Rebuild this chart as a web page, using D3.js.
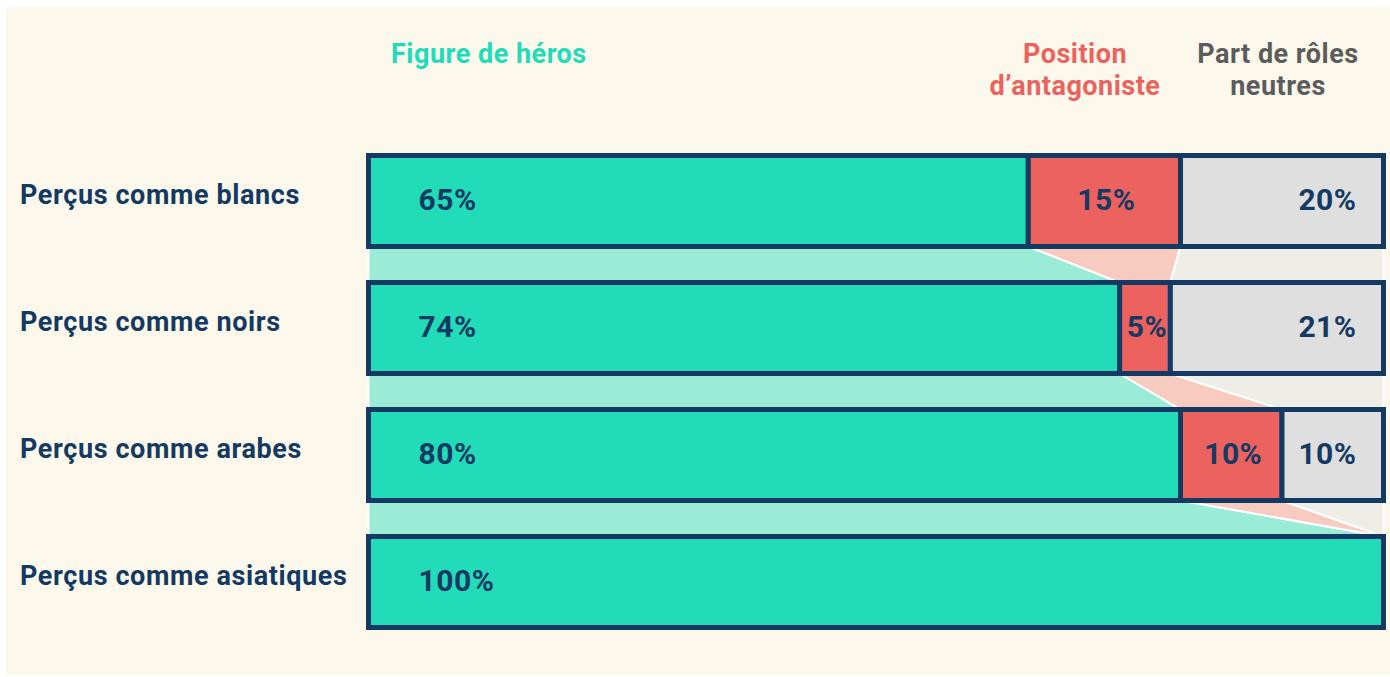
<!DOCTYPE html>
<html>
<head>
<meta charset="utf-8">
<script src="https://cdn.jsdelivr.net/npm/d3@7"></script>
<style>
  body { margin: 0; background: #fff; }
  text { font-family: Roboto, "Noto Sans", sans-serif; font-weight: 700; }
</style>
</head>
<body>
<svg id="chart" width="1390" height="677"></svg>
<script>
var categories = ["Perçus comme blancs", "Perçus comme noirs", "Perçus comme arabes", "Perçus comme asiatiques"];
var heros = [65, 74, 80, 100];
var antagonist = [15, 5, 10, 0];
var neutral = [20, 21, 10, 0];
var seriesNames = [["Figure de héros"], ["Position", "d’antagoniste"], ["Part de rôles", "neutres"]];

var svg = d3.select("svg#chart");

var colors = ["#22dbb8", "#ec625f", "#dfdfdf"];
var lightColors = ["#9aecd6", "#f7cbc0", "#eeede6"];
var headColors = ["#22dbb8", "#ec625f", "#5c5c5c"];
var navy = "#143a63";

svg.append("rect")
    .attr("x", 6).attr("y", 7)
    .attr("width", 1384).attr("height", 668)
    .attr("fill", "#fcf9ec");

var x = d3.scaleLinear().domain([0, 100]).range([368.5, 1383.5]);
var y = d3.scaleBand().domain(categories).range([155.5, 627.5]).paddingInner(0.2835);

// stack the three series per row
var rows = categories.map(function(c, i) {
    var vals = [heros[i], antagonist[i], neutral[i]];
    var acc = 0;
    var segs = vals.map(function(v, k) {
        var s = { k: k, v: v, x0: acc, x1: acc + v, cat: c };
        acc += v;
        return s;
    });
    return { cat: c, segs: segs };
});

// connectors between consecutive bars
var links = [];
for (var i = 0; i < rows.length - 1; i++) {
    for (var k = 0; k < 3; k++) {
        var a = rows[i].segs[k], b = rows[i + 1].segs[k];
        links.push({ k: k, a: a, b: b, y0: y(rows[i].cat) + y.bandwidth(), y1: y(rows[i + 1].cat) });
    }
}

svg.append("g").selectAll("path")
    .data(links)
    .enter().append("path")
        .attr("d", function(d) {
            return "M" + x(d.a.x0) + "," + d.y0 +
                   "L" + x(d.a.x1) + "," + d.y0 +
                   "L" + x(d.b.x1) + "," + d.y1 +
                   "L" + x(d.b.x0) + "," + d.y1 + "Z";
        })
        .attr("fill", function(d) { return lightColors[d.k]; })
        .attr("stroke", "#fff")
        .attr("stroke-width", 2);

// bars
var bar = svg.append("g").selectAll("g")
    .data(rows)
    .enter().append("g")
        .attr("transform", function(d) { return "translate(0," + y(d.cat) + ")"; });

bar.selectAll("rect")
    .data(function(d) { return d.segs.filter(function(s) { return s.v > 0; }); })
    .enter().append("rect")
        .attr("x", function(d) { return x(d.x0); })
        .attr("width", function(d) { return x(d.x1) - x(d.x0); })
        .attr("height", y.bandwidth())
        .attr("fill", function(d) { return colors[d.k]; })
        .attr("stroke", navy)
        .attr("stroke-width", 5);

bar.selectAll("text.val")
    .data(function(d) { return d.segs.filter(function(s) { return s.v > 0; }); })
    .enter().append("text")
        .attr("class", "val")
        .attr("x", function(d) {
            if (d.k === 0) return x(d.x0) + 50;
            if (d.k === 1) return (x(d.x0) + x(d.x1)) / 2 + 2;
            return x(d.x1) - 27;
        })
        .attr("y", y.bandwidth() / 2 + 9)
        .attr("text-anchor", function(d) { return d.k === 0 ? "start" : d.k === 1 ? "middle" : "end"; })
        .attr("font-size", 30)
        .attr("letter-spacing", 0.5)
        .attr("fill", navy)
        .text(function(d) { return d.v + "%"; });

// row labels
svg.append("g").selectAll("text")
    .data(categories)
    .enter().append("text")
        .attr("x", 20)
        .attr("y", function(d) { return y(d) + y.bandwidth() / 2 + 3; })
        .attr("font-size", 27)
        .attr("letter-spacing", 0.6)
        .attr("fill", navy)
        .text(function(d) { return d; });

// series headers
var headX = [391, 1075, 1278];
var headAnchor = ["start", "middle", "middle"];
svg.append("g").selectAll("text")
    .data(seriesNames)
    .enter().append("text")
        .attr("x", function(d, i) { return headX[i]; })
        .attr("y", 63)
        .attr("text-anchor", function(d, i) { return headAnchor[i]; })
        .attr("font-size", 27)
        .attr("letter-spacing", 0.5)
        .attr("fill", function(d, i) { return headColors[i]; })
        .each(function(d, i) {
            d3.select(this).selectAll("tspan")
                .data(d)
                .enter().append("tspan")
                    .attr("x", headX[i])
                    .attr("dy", function(t, j) { return j === 0 ? 0 : 32; })
                    .text(function(t) { return t; });
        });
</script>
</body>
</html>
